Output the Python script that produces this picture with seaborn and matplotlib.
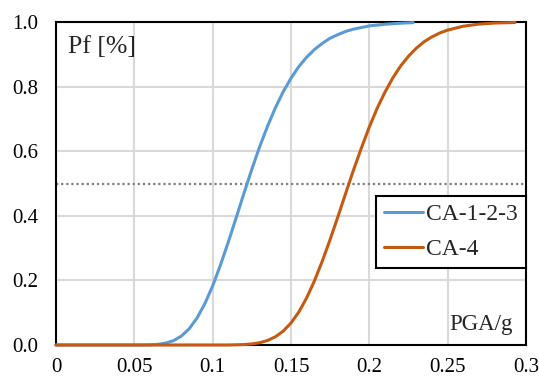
import matplotlib
matplotlib.use("Agg")
import matplotlib.pyplot as plt
import seaborn as sns
import pandas as pd

# Data
pga_blue = [0.0, 0.05, 0.055, 0.06, 0.065, 0.07, 0.075, 0.08, 0.085, 0.09, 0.095, 0.1,
            0.105, 0.11, 0.115, 0.12, 0.125, 0.13, 0.135, 0.14, 0.145, 0.15, 0.155,
            0.16, 0.165, 0.17, 0.175, 0.18, 0.185, 0.19, 0.2, 0.21, 0.22, 0.228]
pf_blue = [0.0, 0.0, 0.0001, 0.0006, 0.0021, 0.0058, 0.0135, 0.0275, 0.0502, 0.0834, 0.128, 0.183,
           0.248, 0.319, 0.394, 0.470, 0.544, 0.614, 0.677, 0.734, 0.784, 0.826, 0.862,
           0.891, 0.915, 0.934, 0.950, 0.961, 0.971, 0.978, 0.988, 0.993, 0.9963, 0.998]

pga_orange = [0.0, 0.11, 0.12, 0.125, 0.13, 0.135, 0.14, 0.145, 0.15, 0.155, 0.16, 0.165,
              0.17, 0.175, 0.18, 0.185, 0.19, 0.195, 0.2, 0.205, 0.21, 0.215, 0.22,
              0.225, 0.23, 0.235, 0.24, 0.245, 0.25, 0.26, 0.27, 0.28, 0.293]
pf_orange = [0.0, 0.0, 0.0013, 0.0033, 0.0070, 0.0139, 0.0253, 0.0428, 0.0681, 0.102, 0.146, 0.199,
             0.260, 0.327, 0.398, 0.471, 0.543, 0.611, 0.675, 0.733, 0.783, 0.827, 0.864,
             0.894, 0.919, 0.939, 0.954, 0.966, 0.975, 0.987, 0.9935, 0.9968, 0.9985]

series_names = ["CA-1-2-3", "CA-4"]
x_ticks = [0, 0.05, 0.1, 0.15, 0.2, 0.25, 0.3]
x_tick_labels = ["0", "0.05", "0.1", "0.15", "0.2", "0.25", "0.3"]
y_ticks = [0.0, 0.2, 0.4, 0.6, 0.8, 1.0]
y_tick_labels = ["0.0", "0.2", "0.4", "0.6", "0.8", "1.0"]
threshold = 0.5

df = pd.concat([
    pd.DataFrame({"PGA": pga_blue, "Pf": pf_blue, "series": series_names[0]}),
    pd.DataFrame({"PGA": pga_orange, "Pf": pf_orange, "series": series_names[1]}),
], ignore_index=True)

sns.set_style("whitegrid")
plt.rcParams["font.family"] = ["Liberation Serif", "DejaVu Serif"]

fig = plt.figure(figsize=(5.39, 3.79), dpi=100)
ax = fig.add_axes([56 / 539, 1 - 345 / 379, 470 / 539, 323 / 379])

ax.axhline(threshold, color="#7f7f7f", linewidth=1.6, linestyle=(0, (1, 1.3)), zorder=2)

sns.lineplot(data=df, x="PGA", y="Pf", hue="series", hue_order=series_names,
             palette=["#5B9BD5", "#C55A11"], linewidth=2.2, sort=False,
             ax=ax, zorder=3, clip_on=False)

ax.set_xlim(0, 0.3)
ax.set_ylim(0, 1.0)
ax.set_xticks(x_ticks)
ax.set_xticklabels(x_tick_labels)
ax.set_yticks(y_ticks)
ax.set_yticklabels(y_tick_labels)
ax.set_xlabel("")
ax.set_ylabel("")
ax.tick_params(axis="both", length=0, labelsize=15, colors="black")
ax.tick_params(axis="y", pad=13)
ax.tick_params(axis="x", pad=9)
ax.grid(True, color="#d9d9d9", linewidth=1.5)
for s in ax.spines.values():
    s.set_color("black")
    s.set_linewidth(1.5)
    s.set_visible(True)

ax.text(0.026, 0.904, "Pf [%]", transform=ax.transAxes, fontsize=18.5,
        ha="left", va="baseline")
ax.text(0.972, 0.046, "PGA/g", transform=ax.transAxes, fontsize=16.5,
        ha="right", va="baseline")

leg = ax.legend(loc="lower right", bbox_to_anchor=(1.0, 0.238), borderaxespad=0,
                fontsize=17, frameon=True, fancybox=False, framealpha=1,
                edgecolor="black", handlelength=1.65, handletextpad=0.12,
                borderpad=0.35, labelspacing=0.55, title=None)
leg.get_frame().set_linewidth(1.5)
leg.set_zorder(5)

fig.savefig("out.png", dpi=100, facecolor="white")
